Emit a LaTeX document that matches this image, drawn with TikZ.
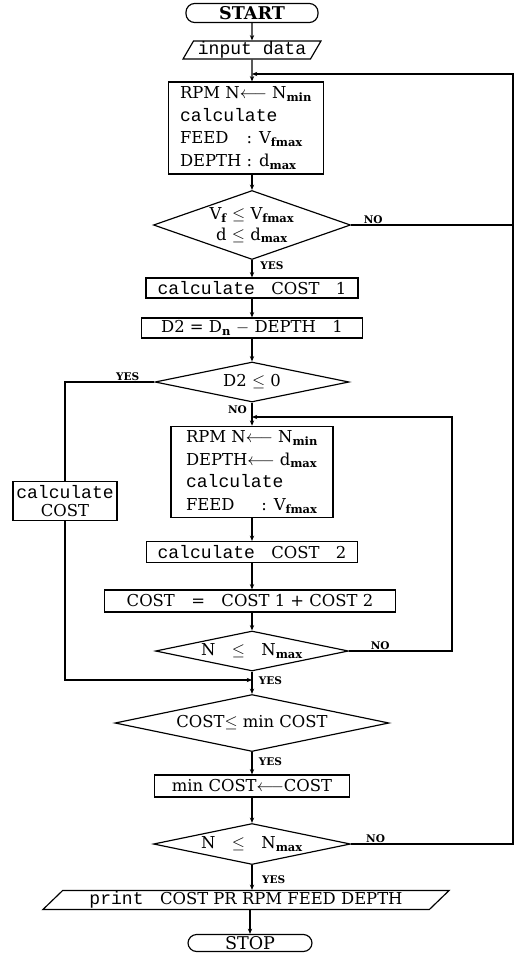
\documentclass[tikz,border=0pt]{standalone}
\usepackage{fontspec}
\setmainfont{DejaVu Serif}
\setmonofont[Scale=1.1]{Liberation Mono}
\usepackage{tikz}
\usetikzlibrary{arrows.meta,shapes.geometric}
\newcommand\cw[1]{{\ttfamily #1}}
\newcommand\sub[1]{\textsubscript{\bfseries #1}}

\begin{document}
\begin{tikzpicture}[x=0.03cm,y=-0.03cm,line width=1pt,
    >={Stealth[length=1.6mm,width=1.3mm]},
    box/.style={draw,rectangle,inner sep=0pt,font=\fontsize{14}{19.5}\selectfont},
    term/.style={draw,rectangle,rounded corners=2.6mm,inner sep=0pt,font=\fontsize{15}{16}\selectfont},
    io/.style={draw,trapezium,trapezium stretches=true,inner sep=0pt,font=\fontsize{14}{15}\selectfont},
    dec/.style={draw,diamond,inner sep=0pt,font=\fontsize{14}{18}\selectfont},
    lbl/.style={font=\fontsize{9}{10}\selectfont\bfseries,inner sep=1pt}]
  \useasboundingbox (0,0) rectangle (517,956);
  % main column
  \node[term,minimum width=3.96cm,minimum height=0.57cm] (start) at (252,13) {\textbf{START}};
  \node[io,trapezium left angle=60,trapezium right angle=120,minimum width=4.14cm,minimum height=0.54cm] (input) at (252,50) {\cw{input data}};
  \node[box,minimum width=4.65cm,minimum height=2.76cm] (rpm1) at (246,128) {\begin{tabular}{@{}l@{\ }l@{}}
      \multicolumn{2}{@{}l@{}}{RPM N$\longleftarrow$ N\sub{min}}\\
      \multicolumn{2}{@{}l@{}}{\cw{calculate}}\\
      FEED & : V\sub{fmax}\\
      DEPTH & : d\sub{max}
    \end{tabular}};
  \node[dec,aspect=2.86,minimum width=5.91cm,minimum height=2.07cm,align=center] (dec1) at (252,225) {V\sub{f} $\leq$ V\sub{fmax}\\d $\leq$ d\sub{max}};
  \node[box,minimum width=6.36cm,minimum height=0.6cm] (cost1) at (252,288) {\cw{calculate}\quad COST\quad 1};
  \node[box,minimum width=6.63cm,minimum height=0.6cm] (d2) at (252,328) {D2 = D\sub{n} $-$ DEPTH\quad 1};
  \node[dec,aspect=4.85,minimum width=5.82cm,minimum height=1.2cm] (dec2) at (252,382) {D2 $\leq$ 0};
  \node[box,minimum width=3.12cm,minimum height=1.17cm,align=center,font=\fontsize{14}{16}\selectfont] (calc) at (65,501) {\cw{calculate}\\COST};
  \node[box,minimum width=4.86cm,minimum height=2.64cm] (rpm2) at (252,472) {\begin{tabular}{@{}l@{\ }l@{}}
      \multicolumn{2}{@{}l@{}}{RPM N$\longleftarrow$ N\sub{min}}\\
      \multicolumn{2}{@{}l@{}}{DEPTH$\longleftarrow$ d\sub{max}}\\
      \multicolumn{2}{@{}l@{}}{\cw{calculate}}\\
      FEED\quad\ \  & : V\sub{fmax}
    \end{tabular}};
  \node[box,minimum width=6.33cm,minimum height=0.63cm] (cost2) at (252,552) {\cw{calculate}\quad COST\quad 2};
  \node[box,minimum width=8.73cm,minimum height=0.66cm] (sum) at (250,601) {COST\quad =\quad COST 1 + COST 2};
  \node[dec,aspect=4.8,minimum width=5.79cm,minimum height=1.2cm] (dec3) at (252,651) {N\quad$\leq$\quad N\sub{max}};
  \node[dec,aspect=4.8,minimum width=8.22cm,minimum height=1.71cm] (dec4) at (252,723) {COST$\leq$ min COST};
  \node[box,minimum width=5.85cm,minimum height=0.66cm] (minc) at (252,786) {min COST$\longleftarrow$COST};
  \node[dec,aspect=4.8,minimum width=5.91cm,minimum height=1.23cm] (dec5) at (252,844) {N\quad$\leq$\quad N\sub{max}};
  \node[io,trapezium left angle=45,trapezium right angle=135,minimum width=12.21cm,minimum height=0.57cm] (print) at (246,900) {\cw{print}\quad COST PR RPM FEED DEPTH};
  \node[term,minimum width=3.72cm,minimum height=0.51cm] (stop) at (250,943) {STOP};
  % branch labels
  \node[lbl,anchor=north west] (yes1) at ([xshift=0.2cm]dec1.south) {YES};
  \node[lbl,anchor=south west] (no1) at ([xshift=0.33cm]dec1.east) {NO};
  \node[lbl,anchor=south east] (yes2) at ([xshift=-0.4cm]dec2.west) {YES};
  \node[lbl,anchor=north east] (no2) at ([xshift=-0.1cm,yshift=-0.05cm]dec2.south) {NO};
  \node[lbl,anchor=south west] (no3) at ([xshift=0.6cm]dec3.east) {NO};
  \node[lbl,anchor=north west] (yes3) at ([xshift=0.15cm,yshift=-0.1cm]dec3.south) {YES};
  \node[lbl,anchor=north west] (yes4) at ([xshift=0.15cm,yshift=-0.1cm]dec4.south) {YES};
  \node[lbl,anchor=south west] (no5) at ([xshift=0.4cm]dec5.east) {NO};
  \node[lbl,anchor=north west] (yes5) at ([xshift=0.25cm,yshift=-0.25cm]dec5.south) {YES};
  % loop points
  \coordinate (j1) at (252,74);
  \coordinate (rtop) at (513,74);
  \coordinate (j2) at (252,417);
  \coordinate (rmid) at (452,417);
  \coordinate (j3) at (252,680);
  % connectors
  \draw[->] (start) -- (input);
  \draw[->] (input) -- (input |- rpm1.north);
  \draw[->] (rpm1.south -| dec1) -- (dec1);
  \draw[->] (dec1) -- (cost1);
  \draw (dec1.east) -- (dec1.east -| rtop);
  \draw[->] (cost1) -- (d2);
  \draw[->] (d2) -- (dec2);
  \draw (dec2.west) -| (calc.north);
  \draw[->] (calc.south) |- (j3);
  \draw[->] (dec2) -- (rpm2);
  \draw[->] (rpm2) -- (cost2);
  \draw[->] (cost2) -- (sum.north -| cost2);
  \draw[->] (sum.south -| dec3) -- (dec3);
  \draw[->] (dec3.east) -| (rmid) -- (j2);
  \draw[->] (dec3) -- (dec4);
  \draw[->] (dec4) -- (minc);
  \draw[->] (minc) -- (dec5);
  \draw[->] (dec5.east) -| (rtop) -- (j1);
  \draw[->] (dec5) -- (dec5 |- print.north);
  \draw[->] (print.south -| stop) -- (stop);
\end{tikzpicture}
\end{document}
